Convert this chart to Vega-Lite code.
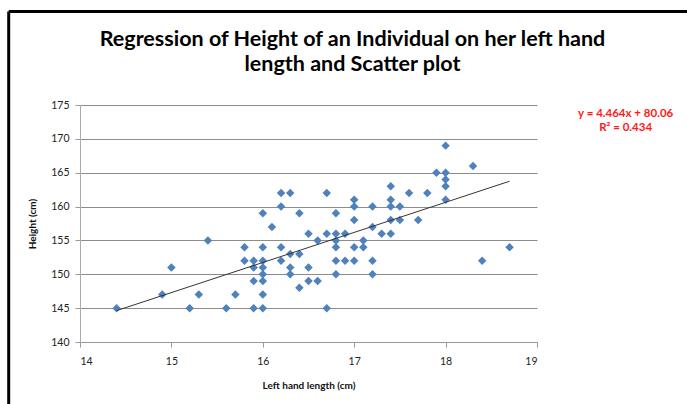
{
  "$schema": "https://vega.github.io/schema/vega-lite/v6.json",
  "width": 457,
  "height": 237,
  "autosize": {"type": "none"},
  "padding": {"left": 80, "top": 105, "right": 150, "bottom": 62},
  "background": "white",
  "config": {
    "view": {"stroke": null},
    "font": "Lato",
    "axisX": {
      "grid": false,
      "domainColor": "#999999",
      "tickColor": "#999999",
      "tickSize": 5,
      "labelFont": "Lato",
      "labelFontSize": 10.5,
      "labelColor": "#222222",
      "labelPadding": 9,
      "titleFont": "Lato",
      "titleFontSize": 10,
      "titleFontWeight": "bold",
      "titleColor": "#111111",
      "titlePadding": 14
    },
    "axisY": {
      "grid": true,
      "gridColor": "#8c8c8c",
      "gridWidth": 1,
      "domainColor": "#aaaaaa",
      "tickColor": "#999999",
      "tickSize": 5,
      "labelFont": "Lato",
      "labelFontSize": 10.5,
      "labelColor": "#222222",
      "labelPadding": 6,
      "titleFont": "Lato",
      "titleFontSize": 10,
      "titleFontWeight": "bold",
      "titleColor": "#111111",
      "titlePadding": 13
    }
  },
  "title": {
    "text": ["Regression of Height of an Individual on her left hand", "length  and Scatter plot"],
    "font": "Lato",
    "fontSize": 21.5,
    "fontWeight": "bold",
    "color": "black",
    "anchor": "middle",
    "frame": "group",
    "dx": 44,
    "offset": -65,
    "lineHeight": 25
  },
  "datasets": {
    "pts": [
      {"length": 14.4, "height": 145}, {"length": 14.9, "height": 147}, {"length": 15.0, "height": 151},
      {"length": 15.2, "height": 145}, {"length": 15.3, "height": 147}, {"length": 15.4, "height": 155},
      {"length": 15.6, "height": 145}, {"length": 15.7, "height": 147}, {"length": 15.8, "height": 154},
      {"length": 15.8, "height": 152}, {"length": 15.9, "height": 152}, {"length": 15.9, "height": 151},
      {"length": 15.9, "height": 149}, {"length": 15.9, "height": 145}, {"length": 16.0, "height": 159},
      {"length": 16.0, "height": 154}, {"length": 16.0, "height": 152}, {"length": 16.0, "height": 151},
      {"length": 16.0, "height": 150}, {"length": 16.0, "height": 149}, {"length": 16.0, "height": 147},
      {"length": 16.0, "height": 145}, {"length": 16.1, "height": 157}, {"length": 16.2, "height": 162},
      {"length": 16.2, "height": 160}, {"length": 16.2, "height": 154}, {"length": 16.2, "height": 152},
      {"length": 16.3, "height": 162}, {"length": 16.3, "height": 153}, {"length": 16.3, "height": 151},
      {"length": 16.3, "height": 150}, {"length": 16.4, "height": 159}, {"length": 16.4, "height": 153},
      {"length": 16.4, "height": 148}, {"length": 16.5, "height": 156}, {"length": 16.5, "height": 151},
      {"length": 16.5, "height": 149}, {"length": 16.6, "height": 155}, {"length": 16.6, "height": 149},
      {"length": 16.7, "height": 162}, {"length": 16.7, "height": 156}, {"length": 16.7, "height": 145},
      {"length": 16.8, "height": 159}, {"length": 16.8, "height": 156}, {"length": 16.8, "height": 155},
      {"length": 16.8, "height": 154}, {"length": 16.8, "height": 152}, {"length": 16.8, "height": 150},
      {"length": 16.9, "height": 156}, {"length": 16.9, "height": 152}, {"length": 17.0, "height": 161},
      {"length": 17.0, "height": 160}, {"length": 17.0, "height": 158}, {"length": 17.0, "height": 154},
      {"length": 17.0, "height": 152}, {"length": 17.1, "height": 155}, {"length": 17.1, "height": 154},
      {"length": 17.2, "height": 160}, {"length": 17.2, "height": 157}, {"length": 17.2, "height": 152},
      {"length": 17.2, "height": 150}, {"length": 17.3, "height": 156}, {"length": 17.4, "height": 163},
      {"length": 17.4, "height": 161}, {"length": 17.4, "height": 160}, {"length": 17.4, "height": 158},
      {"length": 17.4, "height": 156}, {"length": 17.5, "height": 160}, {"length": 17.5, "height": 158},
      {"length": 17.6, "height": 162}, {"length": 17.7, "height": 158}, {"length": 17.8, "height": 162},
      {"length": 17.9, "height": 165}, {"length": 18.0, "height": 169}, {"length": 18.0, "height": 165},
      {"length": 18.0, "height": 164}, {"length": 18.0, "height": 163}, {"length": 18.0, "height": 161},
      {"length": 18.3, "height": 166}, {"length": 18.4, "height": 152}, {"length": 18.7, "height": 154}
    ],
    "one": [{"label": "frame"}]
  },
  "layer": [
    {
      "data": {"name": "pts"},
      "mark": {"type": "point", "shape": "diamond", "filled": true, "size": 72, "color": "#4F81BD", "opacity": 1},
      "encoding": {
        "x": {
          "field": "length",
          "type": "quantitative",
          "scale": {"domain": [14, 19], "nice": false, "zero": false},
          "axis": {"values": [14, 15, 16, 17, 18, 19], "format": "d", "title": "Left hand length (cm)"}
        },
        "y": {
          "field": "height",
          "type": "quantitative",
          "scale": {"domain": [140, 175], "nice": false, "zero": false},
          "axis": {"values": [140, 145, 150, 155, 160, 165, 170, 175], "format": "d", "title": "Height (cm)"}
        }
      }
    },
    {
      "data": {"name": "pts"},
      "transform": [{"regression": "height", "on": "length"}],
      "mark": {"type": "line", "color": "#333333", "strokeWidth": 1},
      "encoding": {
        "x": {"field": "length", "type": "quantitative", "axis": {"values": [14, 15, 16, 17, 18, 19], "format": "d", "title": "Left hand length (cm)"}},
        "y": {"field": "height", "type": "quantitative", "axis": {"values": [140, 145, 150, 155, 160, 165, 170, 175], "format": "d", "title": "Height (cm)"}}
      }
    },
    {
      "data": {"name": "one"},
      "mark": {"type": "rule", "clip": false, "color": "black", "strokeWidth": 3},
      "encoding": {
        "x": {"datum": 13.22, "type": "quantitative", "axis": {"values": [14, 15, 16, 17, 18, 19], "format": "d", "title": "Left hand length (cm)"}},
        "x2": {"datum": 21},
        "y": {"datum": 188.8, "type": "quantitative", "axis": {"values": [140, 145, 150, 155, 160, 165, 170, 175], "format": "d", "title": "Height (cm)"}}
      }
    },
    {
      "data": {"name": "one"},
      "mark": {"type": "rule", "clip": false, "color": "black", "strokeWidth": 3},
      "encoding": {
        "x": {"datum": 13.22, "type": "quantitative", "axis": {"values": [14, 15, 16, 17, 18, 19], "format": "d", "title": "Left hand length (cm)"}},
        "y": {"datum": 188.8, "type": "quantitative", "axis": {"values": [140, 145, 150, 155, 160, 165, 170, 175], "format": "d", "title": "Height (cm)"}},
        "y2": {"datum": 120}
      }
    },
    {
      "data": {"name": "one"},
      "mark": {"type": "text", "color": "#ff1a1a", "fontWeight": "bold", "fontSize": 11.5, "font": "Lato", "align": "center", "baseline": "middle", "lineHeight": 14},
      "encoding": {
        "x": {"datum": 19.97, "type": "quantitative", "axis": {"values": [14, 15, 16, 17, 18, 19], "format": "d", "title": "Left hand length (cm)"}},
        "y": {"datum": 173.6, "type": "quantitative", "axis": {"values": [140, 145, 150, 155, 160, 165, 170, 175], "format": "d", "title": "Height (cm)"}},
        "text": {"value": ["y = 4.464x + 80.06", "R² = 0.434"]}
      }
    }
  ]
}
